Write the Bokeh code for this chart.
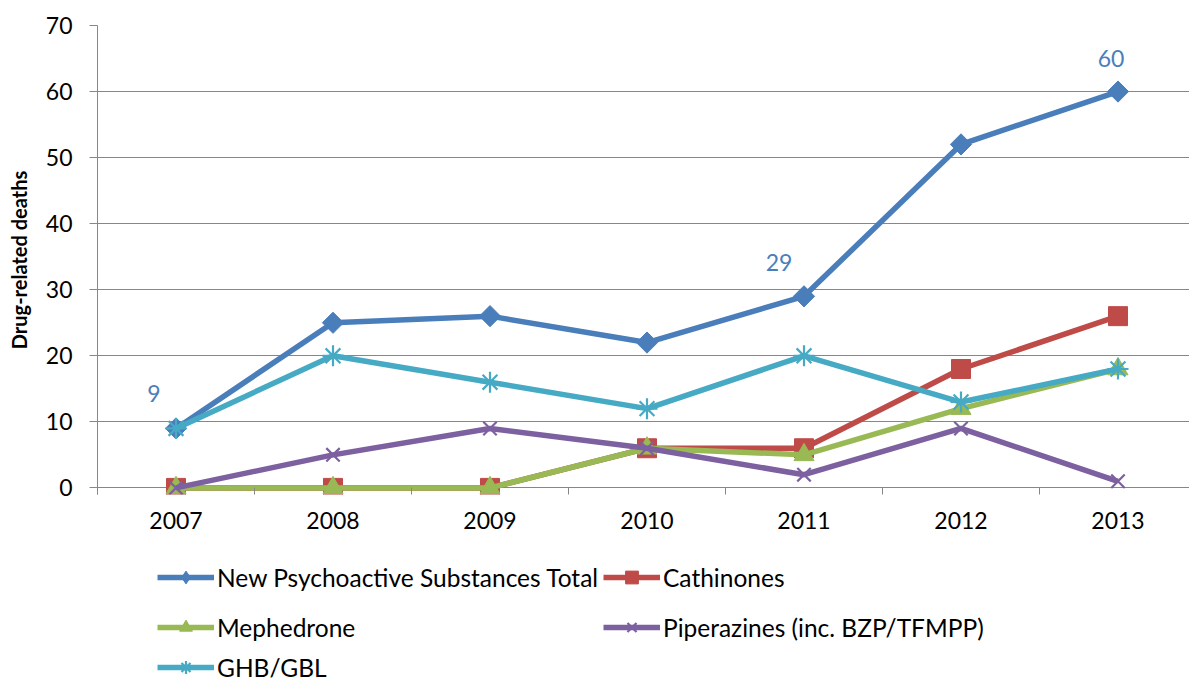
import math
from bokeh.plotting import figure
from bokeh.layouts import column
from bokeh.models import (Range1d, FixedTicker, ColumnDataSource, Legend, LegendItem)
from bokeh.core.properties import value
from bokeh.embed import file_html
from bokeh.resources import INLINE

years = ["2007", "2008", "2009", "2010", "2011", "2012", "2013"]
nps_total = [9, 25, 26, 22, 29, 52, 60]
cathinones = [0, 0, 0, 6, 6, 18, 26]
mephedrone = [0, 0, 0, 6, 5, 12, 18]
piperazines = [0, 5, 9, 6, 2, 9, 1]
ghb_gbl = [9, 20, 16, 12, 20, 13, 18]
y_ticks = [0, 10, 20, 30, 40, 50, 60, 70]
labelled_points = [0, 4, 6]  # indices of the total series that carry a data label

FONT = "Lato"
GRID = "#878787"
W = 1189

# name, values, colour, plot marker, size, angle, legend marker
series = [
    ("New Psychoactive Substances Total", nps_total, "#4A7EBB", "square", 15, math.pi / 4, "diamond"),
    ("Cathinones", cathinones, "#BE4B48", "square", 19, 0, "square"),
    ("Mephedrone", mephedrone, "#98B954", "triangle", 20, 0, "triangle"),
    ("Piperazines (inc. BZP/TFMPP)", piperazines, "#7D60A0", "x", 19, 0, "x"),
    ("GHB/GBL", ghb_gbl, "#46AAC5", "asterisk", 21, 0, "asterisk"),
]

xs = list(range(len(years)))

p = figure(width=W, height=540, output_backend="svg", toolbar_location=None,
           x_range=Range1d(-0.5, -0.5 + (W - 97) / 157), y_range=Range1d(-1.0, 70),
           min_border_left=97, min_border_top=25, min_border_bottom=46, min_border_right=0)
p.outline_line_color = None

# axes
p.xaxis.ticker = FixedTicker(ticks=xs, minor_ticks=[i - 0.5 for i in range(len(years) + 1)])
p.xaxis.major_label_overrides = {i: y for i, y in enumerate(years)}
p.xaxis.axis_line_color = None
p.xaxis.major_tick_in = 0
p.xaxis.major_tick_out = 0
p.xaxis.minor_tick_in = 7
p.xaxis.minor_tick_out = 0
p.xaxis.minor_tick_line_color = GRID
p.xaxis.major_label_text_font = FONT
p.xaxis.major_label_text_font_size = "23px"
p.xaxis.major_label_text_color = "black"
p.xaxis.major_label_standoff = 17

p.yaxis.ticker = FixedTicker(ticks=y_ticks)
p.yaxis.axis_line_color = GRID
p.yaxis.major_tick_line_color = GRID
p.yaxis.major_tick_in = 0
p.yaxis.major_tick_out = 8
p.yaxis.minor_tick_line_color = None
p.yaxis.major_label_text_font = FONT
p.yaxis.major_label_text_font_size = "23px"
p.yaxis.major_label_text_color = "black"
p.yaxis.major_label_standoff = 17
p.yaxis.axis_label = "Drug-related deaths"
p.yaxis.axis_label_text_font = FONT
p.yaxis.axis_label_text_font_size = "20px"
p.yaxis.axis_label_text_font_style = "bold"
p.yaxis.axis_label_text_color = "black"
p.yaxis.axis_label_standoff = 12

p.xgrid.grid_line_color = None
p.ygrid.ticker = FixedTicker(ticks=y_ticks)
p.ygrid.grid_line_color = GRID
p.ygrid.grid_line_width = 1

# legend panel below the chart (its ranges keep the series out of view,
# so only the legend samples are drawn)
lf = figure(width=W, height=142, output_backend="svg", toolbar_location=None,
            x_range=Range1d(-100, -99), y_range=Range1d(-100, -99),
            x_axis_location=None, y_axis_location=None,
            min_border=0, min_border_left=0, min_border_right=0,
            min_border_top=0, min_border_bottom=0)
lf.outline_line_color = None
lf.xgrid.grid_line_color = None
lf.ygrid.grid_line_color = None

items = []
for name, vals, color, marker, size, angle, lmarker in series:
    src = ColumnDataSource(dict(x=xs, y=vals))
    lw = 2.2 if marker in ("x", "asterisk") else 1
    p.line("x", "y", source=src, line_color=color, line_width=5.5)
    p.scatter("x", "y", source=src, marker=marker, size=size, angle=angle,
              fill_color=color, line_color=color, line_width=lw)
    lr = lf.line("x", "y", source=src, line_color=color, line_width=5.5)
    sr = lf.scatter("x", "y", source=src, marker=lmarker, size=size,
                    fill_color=color, line_color=color, line_width=lw)
    items.append(LegendItem(label=name, renderers=[lr, sr]))

# data labels
lab_src = ColumnDataSource(dict(
    x=[xs[i] for i in labelled_points],
    y=[nps_total[i] for i in labelled_points],
    t=[str(nps_total[i]) for i in labelled_points],
    dx=[-22, -25, -7],
    dy=[-35, -34, -33],
))
p.text("x", "y", text="t", source=lab_src, x_offset="dx", y_offset="dy",
       text_font=value(FONT), text_font_size="23px", text_color="#4A7EBB",
       text_align="center", text_baseline="middle")

positions = [(60, 89), (506, 89), (60, 39), (506, 39), (60, -1)]
for item, loc in zip(items, positions):
    lg = Legend(items=[item], location=loc, orientation="horizontal",
                padding=0, margin=0, border_line_color=None,
                background_fill_alpha=0, glyph_width=57, glyph_height=32,
                label_height=32, label_standoff=3, label_text_font=FONT,
                label_text_font_size="24.5px", label_text_color="black",
                label_text_baseline="middle")
    lf.add_layout(lg, "center")

layout = column(p, lf, spacing=0)
open("out.html", "w").write(file_html(layout, INLINE))
